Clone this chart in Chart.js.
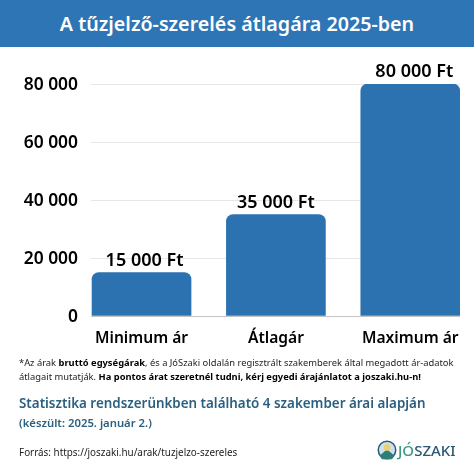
<!DOCTYPE html>
<html lang="hu">
<head>
<meta charset="utf-8">
<script src="https://cdn.jsdelivr.net/npm/chart.js@4"></script>
<style>
  html, body { margin: 0; padding: 0; background: #fff; overflow: hidden; }
  #page { position: relative; width: 474px; height: 474px; font-family: "Noto Sans", sans-serif; overflow: hidden; }
  #myChart { position: absolute; left: 0; top: 0; }
  #header { position: absolute; left: 0; top: 0; width: 474px; height: 47px; line-height: 47px; background: #2e75b5; color: #fff; text-align: center; font-size: 19.7px; font-weight: 600; }
  .line { position: absolute; left: 19px; white-space: nowrap; }
  .note { font-size: 9.35px; color: #222; }
  .note b { color: #000; }
  .stat { color: #2b5f7f; font-weight: 600; }
  #logo { position: absolute; left: 377px; top: 440px; width: 20px; height: 20px; }
  #logoText { position: absolute; left: 398px; top: 440px; font-size: 15px; font-weight: 500; color: #2b5873; }
  #logoText span { color: #3c9a82; }
</style>
</head>
<body>
<div id="page">
  <canvas id="myChart" width="474" height="474"></canvas>
  <div id="header">A tűzjelző-szerelés átlagára 2025-ben</div>
  <div class="line note" style="top:356px"><span>*Az árak <b>bruttó egységárak</b>, és a JóSzaki oldalán regisztrált szakemberek által megadott ár-adatok</span></div>
  <div class="line note" style="top:370px">átlagait mutatják. <b>Ha pontos árat szeretnél tudni, kérj egyedi árajánlatot a joszaki.hu-n!</b></div>
  <div class="line stat" style="top:394px;font-size:13.4px">Statisztika rendszerünkben található 4 szakember árai alapján</div>
  <div class="line stat" style="top:415px;font-size:11.3px">(készült: 2025. január 2.)</div>
  <div class="line" style="top:445px;font-size:9.9px;color:#222">Forrás: https://joszaki.hu/arak/tuzjelzo-szereles</div>
  <svg id="logo" viewBox="0 0 24 24">
    <circle cx="12" cy="12" r="10.5" fill="#cfe0ea" stroke="#2b5873" stroke-width="1.8"/>
    <circle cx="12" cy="9" r="4" fill="#f0d060"/>
    <path d="M3 19 L10 13 L14 13 L21 19 L18 23 L6 23 Z" fill="#2f7d78"/>
  </svg>
  <div id="logoText"><span>JÓ</span>SZAKI</div>
</div>
<script>
const categories = ["Minimum ár", "Átlagár", "Maximum ár"];
const prices = [15000, 35000, 80000];
const yTicks = [0, 20000, 40000, 60000, 80000];
const positions = [0, 1, 2];

const blue = "#2d72b0";
const groupThousands = (v) => String(v).replace(/\B(?=(\d{3})+$)/g, " ");

// price labels on top of the bars, the outer two sit a bit right of centre
const labelShift = [3, 0, 4];
const valueLabels = {
  id: "valueLabels",
  afterDatasetsDraw(chart) {
    const ctx = chart.ctx;
    ctx.save();
    ctx.font = '600 18px "Noto Sans"';
    ctx.fillStyle = "#000";
    ctx.textAlign = "center";
    ctx.textBaseline = "bottom";
    chart.getDatasetMeta(0).data.forEach((bar, i) => {
      ctx.fillText(groupThousands(prices[i]) + " Ft", bar.x + labelShift[i], bar.y - 3);
    });
    ctx.restore();
  },
};

const ctx = document.getElementById("myChart").getContext("2d");
const myChart = new Chart(ctx, {
  type: "bar",
  data: {
    datasets: [
      {
        data: positions.map((x, i) => ({ x: x, y: prices[i] })),
        backgroundColor: blue,
        borderRadius: { topLeft: 7, topRight: 7, bottomLeft: 0, bottomRight: 0 },
        borderSkipped: "bottom",
        barThickness: 99,
      },
    ],
  },
  plugins: [valueLabels],
  options: {
    responsive: false,
    animation: false,
    layout: { padding: { top: 84, right: 14, bottom: 0, left: 0 } },
    plugins: { legend: { display: false }, tooltip: { enabled: false } },
    scales: {
      x: {
        type: "linear",
        offset: false,
        min: -0.376,
        max: 2.37,
        afterBuildTicks: (axis) => {
          axis.ticks = positions.map((p) => ({ value: p }));
        },
        afterFit: (axis) => {
          axis.height = 158;
        },
        grid: { display: false },
        border: { display: false },
        ticks: {
          callback: (v) => categories[v],
          autoSkip: false,
          maxRotation: 0,
          padding: 5,
          color: "#000",
          font: { family: "Noto Sans", size: 15.6, weight: "600" },
        },
      },
      y: {
        min: 0,
        max: 80000,
        afterBuildTicks: (axis) => {
          axis.ticks = yTicks.map((v) => ({ value: v }));
        },
        afterFit: (axis) => {
          axis.width = 91;
        },
        grid: {
          color: (c) => (c.tick.value === 0 ? "#c4c4c4" : "#e6e6e6"),
          lineWidth: 1,
          drawTicks: false,
        },
        border: { display: false },
        ticks: {
          callback: (v) => groupThousands(v),
          padding: 13,
          labelOffset: 1.5,
          color: "#000",
          font: { family: "Noto Sans", size: 17.4, weight: "600" },
        },
      },
    },
  },
});
</script>
</body>
</html>
